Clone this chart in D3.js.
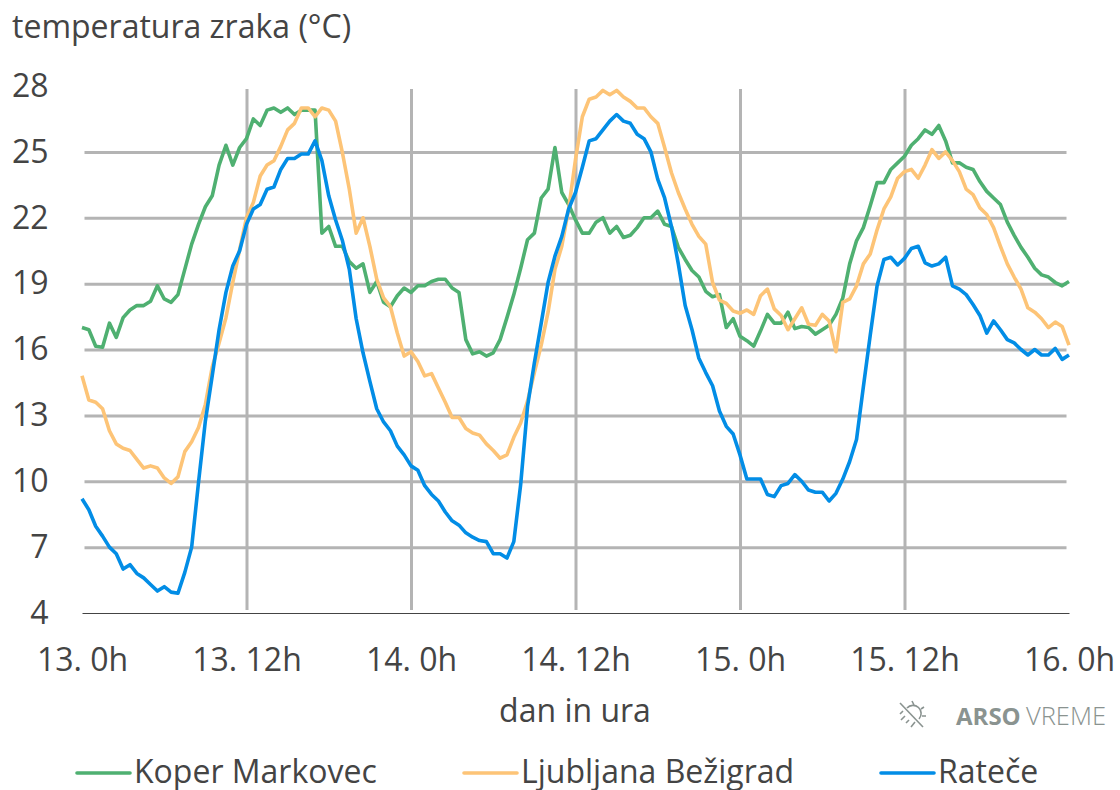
<!DOCTYPE html>
<html>
<head>
<meta charset="utf-8">
<script src="https://cdn.jsdelivr.net/npm/d3@7"></script>
<style>
    html, body { margin: 0; padding: 0; background: #fff; }
    text { font-family: "Open Sans", sans-serif; fill: #444; }
</style>
</head>
<body>
<div id="chart"></div>
<script>
// half-hourly temperatures, index 0 = 13. 0h, index 144 = 16. 0h
const koper = [17.0, 16.9, 16.15, 16.1, 17.2, 16.55, 17.45, 17.8, 18.0, 18.0, 18.2, 18.9, 18.3, 18.15, 18.5, 19.65,
    20.8, 21.7, 22.5, 23.0, 24.4, 25.3, 24.4, 25.2, 25.6, 26.5, 26.2, 26.9, 27.0, 26.8, 27.0, 26.7,
    26.9, 26.9, 26.9, 21.3, 21.6, 20.7, 20.7, 20.0, 19.7, 19.9, 18.6, 19.1, 18.15, 17.95, 18.45, 18.8,
    18.6, 18.9, 18.9, 19.1, 19.2, 19.2, 18.8, 18.6, 16.45, 15.8, 15.9, 15.7, 15.85, 16.45, 17.45, 18.5,
    19.7, 21.0, 21.3, 22.9, 23.3, 25.2, 23.15, 22.6, 21.9, 21.3, 21.3, 21.8, 22.0, 21.3, 21.6, 21.1,
    21.2, 21.55, 22.0, 22.0, 22.3, 21.7, 21.6, 20.65, 20.1, 19.6, 19.3, 18.65, 18.4, 18.5, 17.0, 17.4,
    16.6, 16.4, 16.15, 16.85, 17.6, 17.2, 17.2, 17.7, 16.95, 17.05, 17.0, 16.7, 16.9, 17.1, 17.6, 18.35,
    19.9, 20.95, 21.55, 22.55, 23.6, 23.6, 24.2, 24.5, 24.8, 25.3, 25.6, 26.0, 25.8, 26.2, 25.5, 24.5,
    24.5, 24.3, 24.2, 23.65, 23.2, 22.9, 22.6, 21.8, 21.2, 20.65, 20.2, 19.7, 19.4, 19.3, 19.05, 18.9, 19.1];

const ljubljana = [14.8, 13.7, 13.6, 13.3, 12.3, 11.7, 11.5, 11.4, 11.0, 10.6, 10.7, 10.6, 10.15, 9.9, 10.2, 11.35,
    11.8, 12.45, 13.5, 15.2, 16.3, 17.45, 19.05, 20.55, 22.0, 22.7, 23.9, 24.4, 24.6, 25.25, 26.0, 26.3,
    27.0, 27.0, 26.6, 27.0, 26.9, 26.4, 24.95, 23.3, 21.3, 22.0, 20.7, 19.2, 18.35, 17.95, 16.75, 15.7,
    15.9, 15.45, 14.8, 14.9, 14.25, 13.6, 12.9, 12.9, 12.4, 12.2, 12.1, 11.7, 11.4, 11.05, 11.2, 12.0,
    12.65, 13.65, 14.95, 16.2, 17.7, 19.65, 20.7, 22.4, 24.65, 26.6, 27.4, 27.5, 27.8, 27.6, 27.8, 27.5,
    27.3, 27.0, 27.0, 26.6, 26.3, 25.2, 24.05, 23.15, 22.4, 21.7, 21.15, 20.8, 19.05, 18.25, 18.1, 17.75,
    17.65, 17.8, 17.6, 18.45, 18.75, 17.85, 17.55, 16.9, 17.4, 17.9, 17.15, 17.1, 17.6, 17.3, 15.9, 18.15,
    18.3, 18.9, 19.9, 20.35, 21.45, 22.4, 22.95, 23.8, 24.1, 24.2, 23.8, 24.4, 25.1, 24.7, 25.0, 24.6,
    24.1, 23.3, 23.05, 22.45, 22.15, 21.55, 20.7, 19.9, 19.3, 18.75, 17.9, 17.7, 17.4, 17.0, 17.25, 17.05, 16.2];

const ratece = [9.2, 8.7, 7.95, 7.5, 7.0, 6.7, 6.0, 6.2, 5.8, 5.6, 5.3, 5.0, 5.2, 4.95, 4.9, 5.85,
    7.0, 9.95, 12.75, 14.8, 16.9, 18.6, 19.8, 20.5, 21.7, 22.4, 22.6, 23.3, 23.4, 24.2, 24.7, 24.7,
    24.9, 24.9, 25.5, 24.6, 23.0, 21.9, 20.95, 19.65, 17.4, 15.85, 14.55, 13.3, 12.7, 12.3, 11.6, 11.2,
    10.7, 10.5, 9.8, 9.4, 9.1, 8.6, 8.2, 8.0, 7.65, 7.45, 7.3, 7.25, 6.7, 6.7, 6.5, 7.25,
    9.85, 13.4, 15.4, 17.2, 19.05, 20.25, 21.15, 22.4, 23.15, 24.3, 25.5, 25.6, 26.0, 26.4, 26.7, 26.4,
    26.3, 25.8, 25.6, 25.0, 23.75, 22.9, 21.6, 19.9, 18.0, 16.9, 15.6, 14.95, 14.35, 13.2, 12.5, 12.15,
    11.2, 10.1, 10.1, 10.1, 9.4, 9.3, 9.8, 9.9, 10.3, 10.0, 9.6, 9.5, 9.5, 9.1, 9.45, 10.1,
    10.9, 11.9, 14.3, 16.65, 18.9, 20.1, 20.2, 19.85, 20.15, 20.6, 20.7, 19.95, 19.8, 19.9, 20.2, 18.9,
    18.75, 18.5, 18.05, 17.55, 16.75, 17.3, 16.9, 16.45, 16.3, 16.0, 15.75, 16.0, 15.75, 15.75, 16.05, 15.55, 15.75];

const seriesNames = ["Koper Markovec", "Ljubljana Bežigrad", "Rateče"];
const seriesColors = ["#4fb071", "#fdc477", "#028de6"];
const yTicks = [4, 7, 10, 13, 16, 19, 22, 25, 28];
const xTicks = [0, 24, 48, 72, 96, 120, 144];
const xLabels = ["13. 0h", "13. 12h", "14. 0h", "14. 12h", "15. 0h", "15. 12h", "16. 0h"];

const width = 1120, height = 790;
const plotLeft = 82, plotRight = 1069, plotTop = 86, plotBottom = 613;
const fontSize = 32;

const svg = d3.select("#chart").append("svg")
    .attr("width", width)
    .attr("height", height)
    .style("display", "block");

const xScale = d3.scaleLinear().domain([0, 144]).range([plotLeft, plotRight]);
const yScale = d3.scaleLinear().domain([4, 28]).range([plotBottom, plotTop]);

//Horizontal grid and y labels
const yAxis = d3.axisLeft(yScale)
    .tickValues(yTicks)
    .tickFormat(d3.format("d"))
    .tickSize(-(plotRight - plotLeft - 5))
    .tickPadding(0);

svg.append("g")
    .attr("transform", `translate(${plotLeft + 2.5}, 0)`)
    .call(yAxis)
    .call(g => g.select(".domain").remove())
    .call(g => g.selectAll(".tick line")
        .attr("stroke", "#b4b4b4")
        .attr("stroke-width", 3)
        .attr("visibility", d => (d === 4 || d === 28) ? "hidden" : "visible"))
    .call(g => g.selectAll(".tick text")
        .attr("x", -36)
        .attr("dy", "0.32em")
        .attr("text-anchor", "end")
        .style("font-size", fontSize + "px"));

//Vertical grid and x labels
const xAxis = d3.axisBottom(xScale)
    .tickValues(xTicks)
    .tickFormat((d, i) => xLabels[i])
    .tickSize(0);

svg.append("g")
    .attr("transform", `translate(0, ${plotBottom})`)
    .call(xAxis)
    .call(g => g.select(".domain").attr("stroke", "#444").attr("stroke-width", 1.2))
    .call(g => g.selectAll(".tick line")
        .attr("y1", -3)
        .attr("y2", -524)
        .attr("stroke", "#b4b4b4")
        .attr("stroke-width", 3)
        .attr("visibility", d => (d === 0 || d === 144) ? "hidden" : "visible"))
    .call(g => g.selectAll(".tick text")
        .attr("y", 58)
        .attr("dy", 0)
        .style("font-size", fontSize + "px"));

//Series lines
const line = d3.line()
    .x((d, i) => xScale(i))
    .y(d => yScale(d));

[koper, ljubljana, ratece].forEach((values, i) => {
    svg.append("path")
        .datum(values)
        .attr("d", line)
        .attr("fill", "none")
        .attr("stroke", seriesColors[i])
        .attr("stroke-width", 3.6)
        .attr("stroke-linejoin", "round");
});

//Titles
svg.append("text")
    .attr("x", 12)
    .attr("y", 38)
    .style("font-size", fontSize + "px")
    .text("temperatura zraka (°C)");

svg.append("text")
    .attr("x", 575)
    .attr("y", 722)
    .attr("text-anchor", "middle")
    .style("font-size", fontSize + "px")
    .text("dan in ura");

//Legend
const legendX = [77, 464, 881];
const legend = svg.selectAll(".legend")
    .data(seriesNames)
    .join("g")
    .attr("class", "legend")
    .attr("transform", (d, i) => `translate(${legendX[i]}, 773)`);

legend.append("line")
    .attr("x1", 0)
    .attr("x2", 53)
    .attr("y1", 0)
    .attr("y2", 0)
    .attr("stroke", (d, i) => seriesColors[i])
    .attr("stroke-width", 3.6)
    .attr("stroke-linecap", "round");

legend.append("text")
    .attr("x", 57)
    .attr("y", 10)
    .style("font-size", fontSize + "px")
    .text(d => d);

//ARSO logo
const logo = svg.append("g")
    .attr("transform", "translate(912, 715)")
    .attr("fill", "none")
    .attr("stroke", "#8a9390")
    .attr("stroke-width", 1.6);

logo.append("path").attr("d", "M-5,-7 A7.5,7.5 0 0 1 7,4");
logo.append("path").attr("d", "M-12,-12 L11,12");
logo.append("path").attr("d", "M0,-14 L2,-10 M12,-8 L9,-6 M14,1 L10,1 M-9,-4 L-12,-1 M-7,1 L-11,5 M-3,5 L-6,8 M3,7 L-1,12");

svg.append("text")
    .attr("x", 956)
    .attr("y", 725)
    .style("font-size", "24px")
    .style("font-weight", 700)
    .style("fill", "#8a9390")
    .text("ARSO");

svg.append("text")
    .attr("x", 1026)
    .attr("y", 725)
    .style("font-size", "25.5px")
    .style("font-weight", 300)
    .style("fill", "#8a9390")
    .text("VREME");
</script>
</body>
</html>
